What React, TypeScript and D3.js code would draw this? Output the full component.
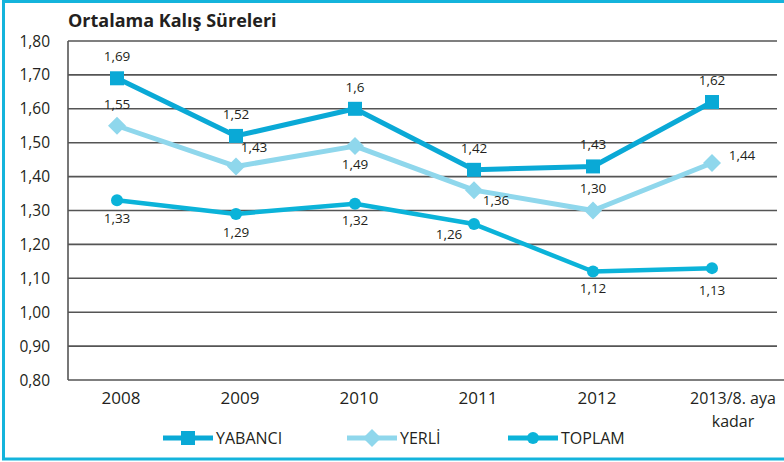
import React, { useEffect, useRef } from "react";
import * as d3 from "d3";

const categories = ["2008", "2009", "2010", "2011", "2012", "2013"];
const categoryLabels = [["2008"], ["2009"], ["2010"], ["2011"], ["2012"], ["2013/8. aya", "kadar"]];
const yabanci = [1.69, 1.52, 1.6, 1.42, 1.43, 1.62];
const yerli = [1.55, 1.43, 1.49, 1.36, 1.3, 1.44];
const toplam = [1.33, 1.29, 1.32, 1.26, 1.12, 1.13];
const yTicks = [0.8, 0.9, 1.0, 1.1, 1.2, 1.3, 1.4, 1.5, 1.6, 1.7, 1.8];

// label offsets [dx, dy] per point
const yabanciLabelPos = [[0, -17], [0, -17], [0, -17], [0, -17], [0, -17], [0, -17]];
const yerliLabelPos = [[0, -17], [18, -14], [0, 23], [22, 15], [0, -18], [30, -3]];
const toplamLabelPos = [[0, 23], [0, 23], [0, 21], [-25, 15], [0, 21], [0, 27]];

const W = 784;
const H = 462;
const FONT = "'Open Sans', sans-serif";

const App: React.FC = () => {
  const svgRef = useRef<SVGSVGElement>(null);

  useEffect(() => {
    const svg = d3.select(svgRef.current);
    svg.selectAll("*").remove();

    const left = 68;
    const right = 777;
    const x = d3.scalePoint<string>().domain(categories).range([117, 712]);
    const y = d3.scaleLinear().domain([0.8, 1.8]).range([380, 41]);
    const fmt = (v: number) => d3.format(".2f")(v).replace(".", ",");
    const fmtLabel = (v: number) => String(v).replace(".", ",");

    // frame
    svg.append("rect")
      .attr("x", 3.5).attr("y", 1.5)
      .attr("width", W + 10).attr("height", H - 4.5)
      .attr("fill", "none").attr("stroke", "#14b4dc").attr("stroke-width", 3);

    // title
    svg.append("text")
      .attr("x", left).attr("y", 27)
      .attr("font-family", FONT).attr("font-weight", 700).attr("font-size", 18)
      .attr("fill", "#231f20")
      .text("Ortalama Kalış Süreleri");

    // grid
    const grid = svg.append("g");
    grid.selectAll("line").data(yTicks).join("line")
      .attr("x1", left).attr("x2", (d) => (d === 0.8 ? W : right))
      .attr("y1", (d) => y(d)).attr("y2", (d) => y(d))
      .attr("stroke", "#555").attr("stroke-width", 1.6);
    grid.append("line")
      .attr("x1", left).attr("x2", left).attr("y1", y(1.8)).attr("y2", y(0.8))
      .attr("stroke", "#555").attr("stroke-width", 1.6);

    // y labels
    svg.append("g").selectAll("text").data(yTicks).join("text")
      .attr("x", 50).attr("y", (d) => y(d) + 5.5)
      .attr("text-anchor", "end")
      .attr("font-family", FONT).attr("font-size", 15.5).attr("fill", "#231f20")
      .text((d) => fmt(d));

    // x labels
    const xl = svg.append("g");
    categories.forEach((c, i) => {
      const lines = categoryLabels[i];
      const cx = lines.length > 1 ? x(c)! + 21 : x(c)! + 4;
      lines.forEach((t, j) => {
        xl.append("text")
          .attr("x", cx).attr("y", 404 + j * 23)
          .attr("text-anchor", "middle")
          .attr("font-family", FONT).attr("font-size", lines.length > 1 ? 16 : 17).attr("fill", "#231f20")
          .text(t);
      });
    });

    const series = [
      { name: "YABANCI", values: yabanci, color: "#0aa9d6", width: 5, marker: "square", pos: yabanciLabelPos },
      { name: "YERLİ", values: yerli, color: "#8fd7ec", width: 5, marker: "diamond", pos: yerliLabelPos },
      { name: "TOPLAM", values: toplam, color: "#0bb3d9", width: 4.5, marker: "circle", pos: toplamLabelPos },
    ];

    const line = d3.line<number>()
      .x((_, i) => x(categories[i])!)
      .y((d) => y(d));

    const drawMarker = (g: any, kind: string, cx: number, cy: number, color: string) => {
      if (kind === "square") {
        g.append("rect").attr("x", cx - 7).attr("y", cy - 7).attr("width", 14).attr("height", 14).attr("fill", color);
      } else if (kind === "diamond") {
        g.append("path")
          .attr("d", `M${cx},${cy - 9}L${cx + 9},${cy}L${cx},${cy + 9}L${cx - 9},${cy}Z`)
          .attr("fill", color);
      } else {
        g.append("circle").attr("cx", cx).attr("cy", cy).attr("r", 6).attr("fill", color);
      }
    };

    series.forEach((s) => {
      const g = svg.append("g");
      g.append("path")
        .attr("d", line(s.values))
        .attr("fill", "none").attr("stroke", s.color).attr("stroke-width", s.width)
        .attr("stroke-linejoin", "round");
      s.values.forEach((v, i) => drawMarker(g, s.marker, x(categories[i])!, y(v), s.color));
      g.selectAll("text.lbl").data(s.values).join("text")
        .attr("class", "lbl")
        .attr("x", (_, i) => x(categories[i])! + s.pos[i][0])
        .attr("y", (d, i) => y(d) + s.pos[i][1])
        .attr("text-anchor", "middle")
        .attr("font-family", FONT).attr("font-size", 13.5).attr("fill", "#231f20")
        .text((d, i) => (s.name === "YERLİ" && i === 4 ? fmt(d) : fmtLabel(d)));
    });

    // legend
    const legendX = [163, 347, 508];
    series.forEach((s, i) => {
      const g = svg.append("g");
      const lx = legendX[i];
      const ly = 438;
      g.append("line")
        .attr("x1", lx).attr("x2", lx + 50).attr("y1", ly).attr("y2", ly)
        .attr("stroke", s.color).attr("stroke-width", 5);
      drawMarker(g, s.marker, lx + 25, ly, s.color);
      g.append("text")
        .attr("x", lx + 53).attr("y", ly + 6)
        .attr("font-family", FONT).attr("font-size", 16).attr("fill", "#231f20")
        .text(s.name);
    });
  }, []);

  return (
    <svg
      ref={svgRef}
      width={W}
      height={H}
      style={{ position: "absolute", left: 0, top: 0, background: "#fff" }}
    />
  );
};

export default App;
